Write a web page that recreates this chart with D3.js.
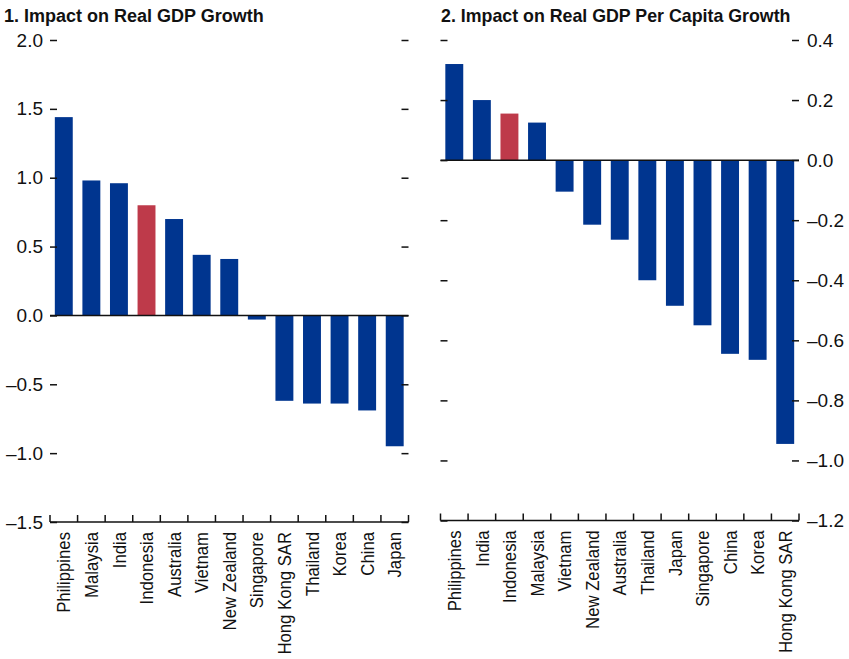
<!DOCTYPE html>
<html>
<head>
<meta charset="utf-8">
<script src="https://cdn.jsdelivr.net/npm/d3@7"></script>
<style>
  body { margin: 0; background: #fff; }
  svg { display: block; font-family: "Liberation Sans", Arial, sans-serif; }
</style>
</head>
<body>
<svg id="chart" width="849" height="659"></svg>
<script>
// ---- Data ----
const title1 = "1. Impact on Real GDP Growth";
const title2 = "2. Impact on Real GDP Per Capita Growth";

const categories1 = ["Philippines", "Malaysia", "India", "Indonesia", "Australia", "Vietnam", "New Zealand", "Singapore", "Hong Kong SAR", "Thailand", "Korea", "China", "Japan"];
const values1 = [1.44, 0.98, 0.96, 0.80, 0.70, 0.44, 0.41, -0.03, -0.62, -0.64, -0.64, -0.69, -0.95];

const categories2 = ["Philippines", "India", "Indonesia", "Malaysia", "Vietnam", "New Zealand", "Australia", "Thailand", "Japan", "Singapore", "China", "Korea", "Hong Kong SAR"];
const values2 = [0.32, 0.20, 0.155, 0.125, -0.105, -0.215, -0.265, -0.40, -0.485, -0.55, -0.645, -0.665, -0.945];

const ticks1 = [-1.5, -1.0, -0.5, 0.0, 0.5, 1.0, 1.5, 2.0];
const ticks2 = [-1.2, -1.0, -0.8, -0.6, -0.4, -0.2, 0.0, 0.2, 0.4];

const highlight = "Indonesia";
const blue = "#00358f";
const red = "#be3a4a";

const svg = d3.select("#chart");
const fmt = v => (v < 0 ? "\u2013" : "") + d3.format(".1f")(Math.abs(v));

function panel(cfg) {
  const x = d3.scaleBand().domain(cfg.cats).range([cfg.x0, cfg.x1]).paddingInner(0.35).paddingOuter(0.175);
  const y = d3.scaleLinear().domain(cfg.domain).range([cfg.yb, cfg.yt]);
  const g = svg.append("g");

  // title
  svg.append("text").attr("x", cfg.titleX).attr("y", 22)
    .attr("font-size", cfg.titleSize).attr("font-weight", "bold").attr("fill", "#111")
    .text(cfg.title);

  // bars
  g.selectAll("rect.bar").data(cfg.vals).enter().append("rect")
    .attr("class", "bar")
    .attr("x", (d, i) => x(cfg.cats[i]))
    .attr("width", x.bandwidth())
    .attr("y", d => y(Math.max(0, d)))
    .attr("height", d => Math.abs(y(d) - y(0)))
    .attr("fill", (d, i) => cfg.cats[i] === highlight ? red : blue);

  // left ticks (inward)
  const axL = d3.axisLeft(y).tickValues(cfg.ticks).tickSize(-7).tickPadding(cfg.labelLeft ? 7 : 0)
    .tickFormat(cfg.labelLeft ? fmt : "");
  const gl = svg.append("g").attr("transform", `translate(${cfg.x0},0)`).call(axL);
  gl.select(".domain").remove();
  gl.selectAll("line").attr("stroke", "#111").attr("stroke-width", 1.5);
  gl.selectAll("text").attr("font-size", 19).attr("fill", "#111");

  // right ticks (inward)
  const axR = d3.axisRight(y).tickValues(cfg.ticks).tickSize(-7).tickPadding(cfg.labelRight ? 8 : 0)
    .tickFormat(cfg.labelRight ? fmt : "");
  const gr = svg.append("g").attr("transform", `translate(${cfg.x1},0)`).call(axR);
  gr.select(".domain").remove();
  gr.selectAll("line").attr("stroke", "#111").attr("stroke-width", 1.5);
  gr.selectAll("text").attr("font-size", 19).attr("fill", "#111");
  gl.attr("font-family", null); gr.attr("font-family", null);

  // zero line
  svg.append("line").attr("x1", cfg.x0).attr("x2", cfg.x1)
    .attr("y1", y(0)).attr("y2", y(0)).attr("stroke", "#111").attr("stroke-width", 1.5);

  // bottom axis with boundary ticks
  const yb = y(cfg.domain[0]);
  svg.append("line").attr("x1", cfg.x0).attr("x2", cfg.x1)
    .attr("y1", yb).attr("y2", yb).attr("stroke", "#111").attr("stroke-width", 1.5);
  const step = x.step();
  const bounds = d3.range(cfg.cats.length + 1).map(i => x(cfg.cats[0]) - step * x.paddingOuter() + i * step);
  svg.selectAll(null).data(bounds).enter().append("line")
    .attr("x1", d => d).attr("x2", d => d)
    .attr("y1", yb).attr("y2", yb - 7)
    .attr("stroke", "#111").attr("stroke-width", 1.5);

  // category labels (condensed along the text direction)
  svg.selectAll(null).data(cfg.cats).enter().append("text")
    .attr("transform", d => `translate(${x(d) + x.bandwidth() / 2},${yb + 10}) rotate(-90) scale(0.88,1)`)
    .attr("text-anchor", "end")
    .attr("dy", "0.35em")
    .attr("font-size", 19)
    .attr("fill", "#111")
    .text(d => d);
}

panel({
  title: title1, titleX: 4, titleSize: 18, cats: categories1, vals: values1, ticks: ticks1,
  domain: [-1.5, 2.0], x0: 50, x1: 408.5, yb: 522, yt: 40,
  labelLeft: true, labelRight: false
});
panel({
  title: title2, titleX: 441, titleSize: 17.8, cats: categories2, vals: values2, ticks: ticks2,
  domain: [-1.2, 0.4], x0: 440.5, x1: 799, yb: 520.5, yt: 40,
  labelLeft: false, labelRight: true
});
</script>
</body>
</html>
